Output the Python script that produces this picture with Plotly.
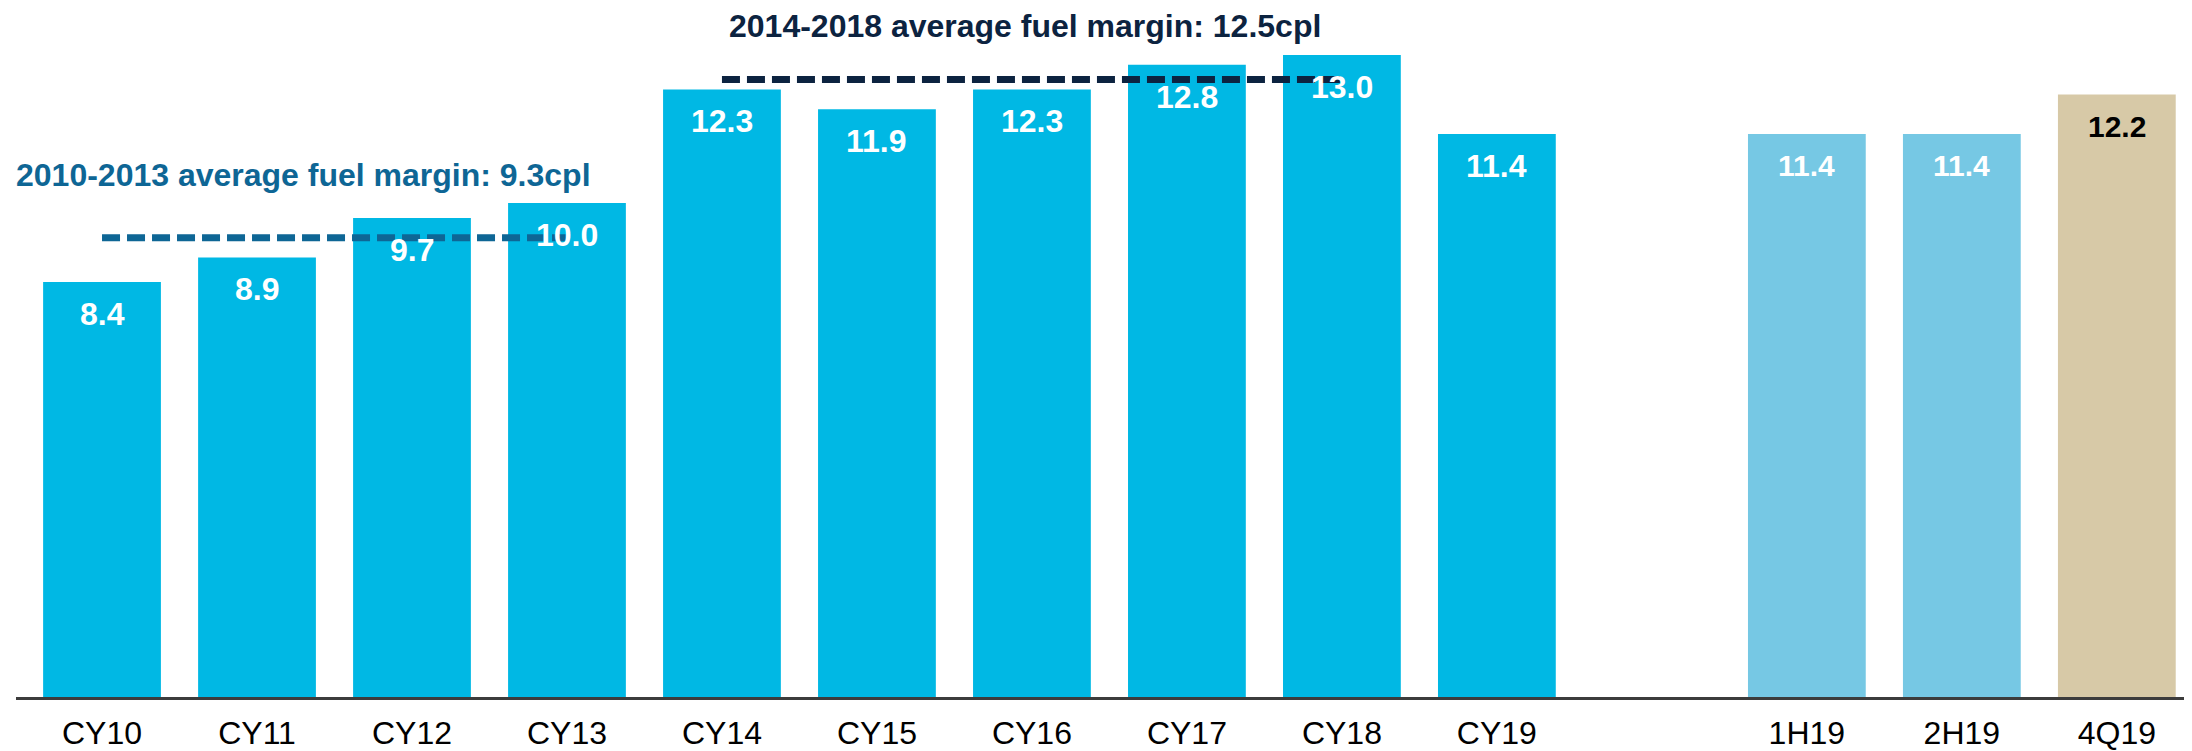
import plotly.graph_objects as go

# categories (blank slot separates the yearly bars from the 2019 splits)
categories = ["CY10", "CY11", "CY12", "CY13", "CY14", "CY15", "CY16", "CY17", "CY18", "CY19",
              " ", "1H19", "2H19", "4Q19"]
margins = [8.4, 8.9, 9.7, 10.0, 12.3, 11.9, 12.3, 12.8, 13.0, 11.4, None, 11.4, 11.4, 12.2]
labels = ["8.4", "8.9", "9.7", "10.0", "12.3", "11.9", "12.3", "12.8", "13.0", "11.4", "", "11.4", "11.4", "12.2"]

avg_early_x = ["CY10", "CY13"]
avg_early = 9.3
avg_late_x = ["CY14", "CY18"]
avg_late = 12.5

CYAN = "#00B8E4"
LIGHT = "#76C8E4"
TAN = "#D7C9A7"
colors = [CYAN] * 10 + ["rgba(0,0,0,0)", LIGHT, LIGHT, TAN]

SANS = "Liberation Sans, Arial"

fig = go.Figure()

fig.add_trace(go.Bar(
    x=categories, y=margins,
    marker=dict(color=colors, line=dict(width=0)),
    hoverinfo="skip", showlegend=False
))

# average lines
fig.add_trace(go.Scatter(
    x=avg_early_x, y=[avg_early, avg_early], mode="lines",
    line=dict(color="#0E6695", width=7, dash="18px,7px"), showlegend=False, hoverinfo="skip"
))
fig.add_trace(go.Scatter(
    x=avg_late_x, y=[avg_late, avg_late], mode="lines",
    line=dict(color="#0C2340", width=7, dash="18px,7px"), showlegend=False, hoverinfo="skip"
))

# value labels inside the bars
for cat, val, lab in zip(categories, margins, labels):
    if val is None:
        continue
    if cat.startswith("CY"):
        font = dict(family=SANS, size=32, color="white")
    elif cat == "4Q19":
        font = dict(family=SANS, size=30, color="black")
    else:
        font = dict(family=SANS, size=30, color="white")
    fig.add_annotation(x=cat, y=val, text="<b>%s</b>" % lab, showarrow=False,
                       yanchor="middle", yshift=-32, font=font)

fig.add_annotation(xref="paper", x=-0.001, y=10.57, xanchor="left", yanchor="middle",
                   text="<b>2010-2013 average fuel margin: 9.3cpl</b>", showarrow=False,
                   font=dict(family=SANS, size=32, color="#0E6695"))
fig.add_annotation(x="CY16", y=13.58, xanchor="center", yanchor="middle", xshift=-7,
                   borderpad=0,
                   text="<b>2014-2018 average fuel margin: 12.5cpl</b>", showarrow=False,
                   font=dict(family=SANS, size=32, color="#0C2340"))

fig.update_layout(
    width=2184, height=743,
    margin=dict(l=8, r=0, t=0, b=54),
    plot_bgcolor="white", paper_bgcolor="white",
    bargap=0.24,
    xaxis=dict(range=[-0.555, 13.485], showline=True, linecolor="#3C3C3C", linewidth=3,
               showgrid=False, ticks="outside", ticklen=6, tickcolor="rgba(0,0,0,0)",
               tickfont=dict(family=SANS, size=32, color="black")),
    yaxis=dict(range=[0, 13.95], visible=False),
)

fig.write_html("out.html")
